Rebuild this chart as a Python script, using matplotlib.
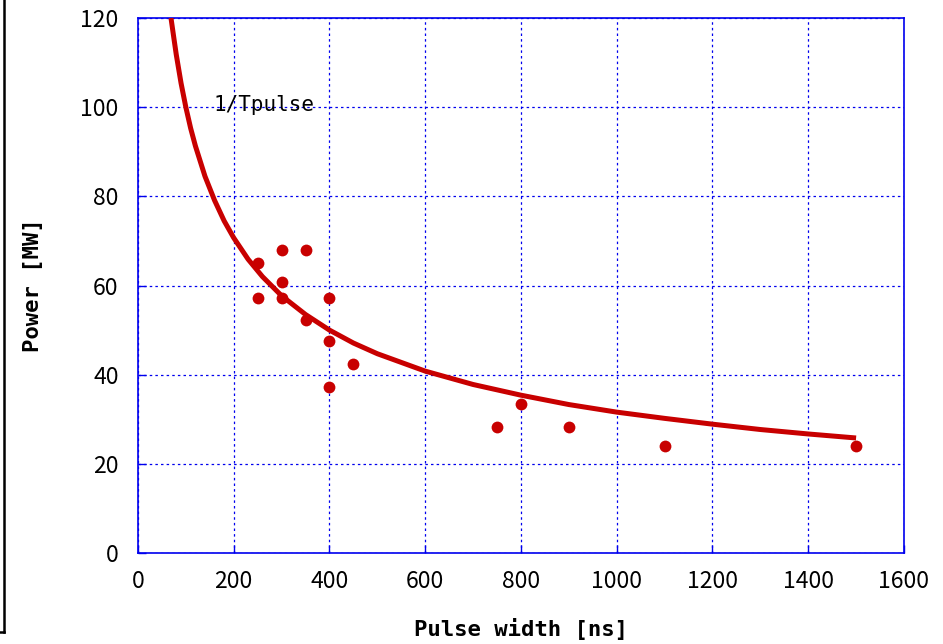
import matplotlib
matplotlib.use('Agg')
import matplotlib.pyplot as plt
from matplotlib.lines import Line2D

# data
pulse_ns = [250, 300, 350, 300, 250, 300, 400, 350, 400, 450, 400, 750, 800, 900, 1100, 1500]
power_mw = [65.1, 67.9, 67.9, 60.8, 57.1, 57.1, 57.1, 52.3, 47.5, 42.3, 37.2, 28.3, 33.4, 28.3, 24.1, 24.1]

# fitted curve
curve_t = [69, 75, 80, 90, 100, 110, 120, 140, 160, 180, 200, 230, 260, 300, 350, 400,
           450, 500, 600, 700, 800, 900, 1000, 1100, 1200, 1300, 1400, 1500]
curve_p = [120.0, 115.5, 111.8, 105.4, 100.0, 95.3, 91.3, 84.5, 79.1, 74.5, 70.7, 65.9,
           62.0, 57.7, 53.5, 50.0, 47.1, 44.7, 40.8, 37.8, 35.4, 33.3, 31.6, 30.2, 28.9,
           27.7, 26.7, 25.8]

xticks = [0, 200, 400, 600, 800, 1000, 1200, 1400, 1600]
yticks = [0, 20, 40, 60, 80, 100, 120]

red = '#C80000'
blue = '#0000EE'

fig = plt.figure(figsize=(9.43, 6.44), dpi=100)
ax = fig.add_axes([0.1463, 0.1413, 0.8123, 0.8307])

ax.plot(curve_t, curve_p, color=red, lw=3.6, solid_capstyle='butt', zorder=3)
ax.plot(pulse_ns, power_mw, 'o', color=red, ms=8.5, mec='none', zorder=4)

ax.text(157, 100.5, '1/Tpulse', fontsize=15, family='DejaVu Sans Mono',
        va='center', ha='left')

ax.set_xlim(0, 1600)
ax.set_ylim(0, 120)
ax.set_xticks(xticks)
ax.set_yticks(yticks)
ax.grid(True, color=blue, ls=(0, (2, 2.5)), lw=0.9)
for s in ax.spines.values():
    s.set_color(blue)
    s.set_linewidth(1.2)
ax.tick_params(direction='in', length=6, color=blue, width=1.0, labelsize=16.5)
ax.tick_params(axis='x', pad=12)
ax.tick_params(axis='y', pad=14)
for lab in ax.get_xticklabels() + ax.get_yticklabels():
    lab.set_family(['Noto Sans CJK JP', 'DejaVu Sans'])

ax.set_xlabel('Pulse width [ns]', fontsize=16, family='DejaVu Sans Mono',
              fontweight='bold', labelpad=18)
ax.set_ylabel('Power [MW]', fontsize=16, family='DejaVu Sans Mono',
              fontweight='bold', labelpad=27)

# frame edge at the left of the picture
fig.add_artist(Line2D([3.5 / 943, 3.5 / 943], [1, 1 - 632 / 644], color='black', lw=1.8))
fig.add_artist(Line2D([0, 4 / 943], [1 - 632 / 644, 1 - 632 / 644], color='black', lw=1.8))

fig.savefig('out.png', dpi=100)
